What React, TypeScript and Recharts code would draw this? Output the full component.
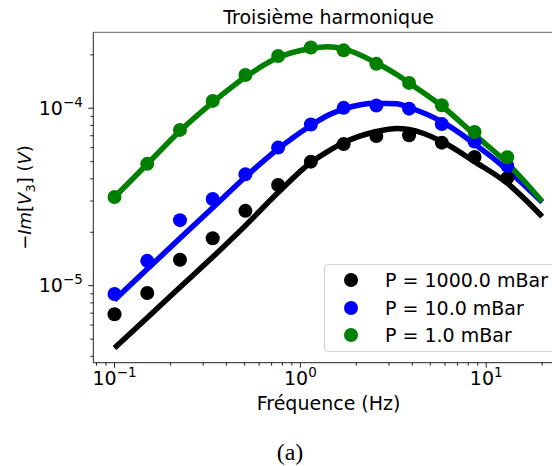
import { ComposedChart, Line, Scatter, XAxis, YAxis, ReferenceLine, Legend } from "recharts";

// measured points (Hz, V)
const freq = [0.1, 0.15, 0.225, 0.3375, 0.506, 0.759, 1.139, 1.709, 2.563, 3.844, 5.767, 8.65, 12.97];
const meas1000 = [6.9e-6, 9.1e-6, 1.4e-5, 1.85e-5, 2.64e-5, 3.69e-5, 5.0e-5, 6.28e-5, 6.97e-5, 7.05e-5, 6.4e-5, 5.32e-5, 4.05e-5];
const meas10 = [8.98e-6, 1.38e-5, 2.34e-5, 3.08e-5, 4.24e-5, 6.0e-5, 8.1e-5, 1.005e-4, 1.035e-4, 9.95e-5, 8.15e-5, 6.5e-5, 4.74e-5];
const meas1 = [3.16e-5, 4.86e-5, 7.55e-5, 1.1e-4, 1.54e-4, 1.97e-4, 2.2e-4, 2.12e-4, 1.78e-4, 1.39e-4, 1.04e-4, 7.35e-5, 5.3e-5];

// fitted curves
const fitFreq = [0.1, 0.15, 0.225, 0.3375, 0.506, 0.759, 1.139, 1.4, 1.709, 2.563, 3.3, 3.844, 5.767, 8.65, 12.97, 20];
const fit1000 = [4.45e-6, 6.6e-6, 9.8e-6, 1.45e-5, 2.18e-5, 3.35e-5, 4.95e-5, 5.7e-5, 6.4e-5, 7.4e-5, 7.7e-5, 7.6e-5, 6.5e-5, 5.0e-5, 3.78e-5, 2.45e-5];
const fit10 = [8.3e-6, 1.24e-5, 1.85e-5, 2.75e-5, 4.1e-5, 5.9e-5, 8.0e-5, 9.1e-5, 9.9e-5, 1.067e-4, 1.06e-4, 1.01e-4, 8.4e-5, 6.3e-5, 4.5e-5, 2.95e-5];
const fit1 = [3.15e-5, 4.85e-5, 7.45e-5, 1.08e-4, 1.5e-4, 1.93e-4, 2.17e-4, 2.22e-4, 2.16e-4, 1.8e-4, 1.55e-4, 1.39e-4, 1.03e-4, 7.1e-5, 4.9e-5, 2.98e-5];

const xTicks = [0.08, 0.09, 0.1, 0.2, 0.3, 0.4, 0.5, 0.6, 0.7, 0.8, 0.9, 1, 2, 3, 4, 5, 6, 7, 8, 9, 10, 20];
const yTicks = [4e-6, 5e-6, 6e-6, 7e-6, 8e-6, 9e-6, 1e-5, 2e-5, 3e-5, 4e-5, 5e-5, 6e-5, 7e-5, 8e-5, 9e-5, 1e-4, 2e-4];

const X_DOMAIN = [0.0769, 26.2];
const Y_DOMAIN = [3.68e-6, 2.68e-4];

const FONT = "DejaVu Sans";

const series = [
  { name: "P = 1000.0 mBar", color: "#000000", pts: meas1000, fit: fit1000 },
  { name: "P = 10.0 mBar", color: "#0000ff", pts: meas10, fit: fit10 },
  { name: "P = 1.0 mBar", color: "#008000", pts: meas1, fit: fit1 },
];

const toXY = (xs: number[], ys: number[]) => xs.map((x, i) => ({ x, y: ys[i] }));

function expOf(v: number) {
  const e = Math.log10(v);
  const r = Math.round(e);
  return { major: Math.abs(e - r) < 1e-6, r };
}

const sup = (r: number) => (r < 0 ? "\u2212" + -r : String(r));

function XTick(props: any) {
  const { x, y, payload } = props;
  const { major, r } = expOf(payload.value);
  return (
    <g>
      <line x1={x} x2={x} y1={y} y2={y + (major ? 5 : 3)} stroke="#222" strokeWidth={1} />
      {major && (
        <text x={x} y={y + 22} textAnchor="middle" fontFamily={FONT} fontSize={19} fill="#000">
          10<tspan dy={-7.5} fontSize={13.5}>{sup(r)}</tspan>
        </text>
      )}
    </g>
  );
}

function YTick(props: any) {
  const { x, y, payload } = props;
  const { major, r } = expOf(payload.value);
  return (
    <g>
      <line x1={x - (major ? 5 : 3)} x2={x} y1={y} y2={y} stroke="#222" strokeWidth={1} />
      {major && (
        <text x={x - 10.5} y={y + 6.7} textAnchor="end" fontFamily={FONT} fontSize={19} fill="#000">
          10<tspan dy={-8} fontSize={13.5}>{sup(r)}</tspan>
        </text>
      )}
    </g>
  );
}

function LegendBox() {
  return (
    <div
      style={{
        position: "relative",
        width: 240,
        height: 88,
        boxSizing: "border-box",
        border: "1px solid #d4d4d4",
        borderRadius: 4,
        background: "rgba(255,255,255,0.8)",
      }}
    >
      {series.map((s, i) => (
        <div key={s.name} style={{ position: "absolute", left: 0, top: 15 + i * 27.7 - 14, height: 28, width: 240 }}>
          <div style={{ position: "absolute", left: 19, top: 7, width: 14, height: 14, borderRadius: "50%", background: s.color }} />
          <div style={{ position: "absolute", left: 60, top: 0, lineHeight: "28px", fontFamily: FONT, fontSize: 19, color: "#000", whiteSpace: "nowrap" }}>
            {s.name}
          </div>
        </div>
      ))}
    </div>
  );
}

export default function App() {
  return (
    <div style={{ position: "absolute", left: 0, top: 0, width: 552, height: 466, overflow: "hidden", background: "#fff" }}>
      <ComposedChart width={600} height={466} margin={{ top: 32.3, right: 36, bottom: 0, left: 0 }}>
        <XAxis
          type="number"
          dataKey="x"
          scale="log"
          domain={X_DOMAIN}
          allowDataOverflow
          ticks={xTicks}
          interval={0}
          tickSize={0}
          tickMargin={0}
          tickLine={false}
          tick={<XTick />}
          axisLine={{ stroke: "#222", strokeWidth: 1 }}
          height={103.3}
        />
        <YAxis
          type="number"
          dataKey="y"
          scale="log"
          domain={Y_DOMAIN}
          allowDataOverflow
          ticks={yTicks}
          interval={0}
          tickSize={0}
          tickMargin={0}
          tickLine={false}
          tick={<YTick />}
          axisLine={{ stroke: "#222", strokeWidth: 1 }}
          width={93.3}
        />
        <ReferenceLine y={Y_DOMAIN[1]} stroke="#808080" strokeWidth={1.3} />
        {series.flatMap((s) => [
          <Scatter
            key={s.name + "-pts"}
            name={s.name}
            data={toXY(freq, s.pts)}
            dataKey="y"
            fill={s.color}
            isAnimationActive={false}
            shape={(p: any) => <circle cx={p.cx} cy={p.cy} r={7} fill={s.color} />}
          />,
          <Line
            key={s.name + "-fit"}
            data={toXY(fitFreq, s.fit)}
            dataKey="y"
            type="monotone"
            stroke={s.color}
            strokeWidth={5.5}
            dot={false}
            activeDot={false}
            legendType="none"
            isAnimationActive={false}
          />,
        ])}
        <Legend
          layout="vertical"
          align="center"
          verticalAlign="middle"
          wrapperStyle={{ left: 324, top: 264, width: 240, height: 88 }}
          content={() => <LegendBox />}
        />
      </ComposedChart>
      <svg width={600} height={466} style={{ position: "absolute", left: 0, top: 0, pointerEvents: "none" }}>
        <text x={328.6} y={24.3} textAnchor="middle" fontFamily={FONT} fontSize={19} fill="#000">
          Troisième harmonique
        </text>
        <text x={328.6} y={410} textAnchor="middle" fontFamily={FONT} fontSize={19} fill="#000">
          Fréquence (Hz)
        </text>
        <text
          x={30.5}
          y={197.5}
          textAnchor="middle"
          fontFamily={FONT}
          fontSize={18}
          fill="#000"
          transform="rotate(-90 30.5 197.5)"
        >
          {"\u2212"}
          <tspan fontStyle="italic">Im</tspan>[<tspan fontStyle="italic">V</tspan>
          <tspan dy={4} fontSize={13}>3</tspan>
          <tspan dy={-4}>] (</tspan>
          <tspan fontStyle="italic">V</tspan>)
        </text>
        <text x={290} y={460} textAnchor="middle" fontFamily="Liberation Serif" fontSize={24} fill="#000">
          (a)
        </text>
      </svg>
    </div>
  );
}
